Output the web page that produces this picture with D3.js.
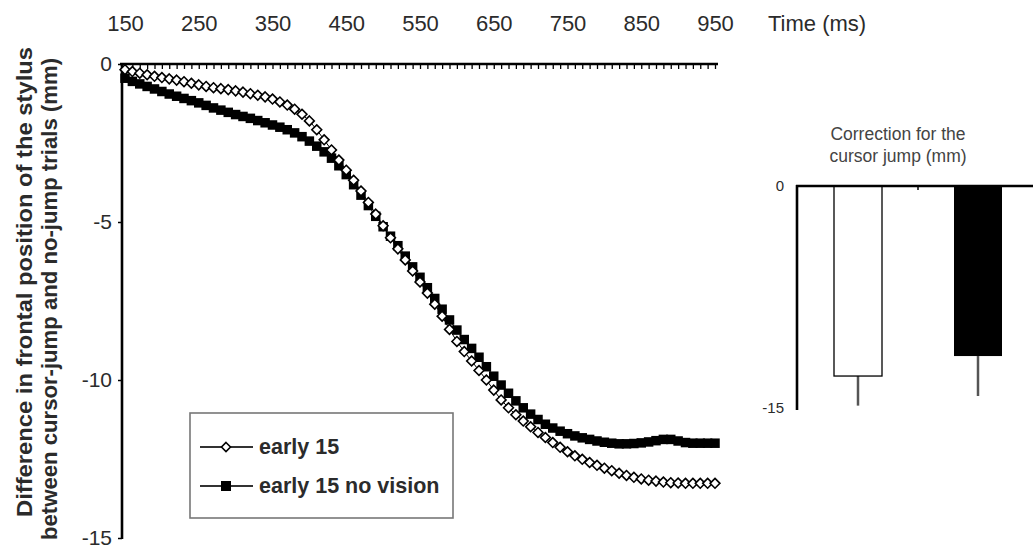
<!DOCTYPE html>
<html>
<head>
<meta charset="utf-8">
<script src="https://cdn.jsdelivr.net/npm/d3@7"></script>
<style>
  body { margin: 0; background: #fff; }
  svg { display: block; }
</style>
</head>
<body>
<svg id="chart" width="1033" height="555"></svg>
<script>
// Sampling grid (ms) and labelled ticks
const sampleTimes = d3.range(150, 951, 10);
const timeTicks = [150, 250, 350, 450, 550, 650, 750, 850, 950];
const yTicks = [0, -5, -10, -15];

// Mean frontal-position difference (mm), one value per 10 ms sample
const early15 = [
  -0.18, -0.24, -0.29, -0.34, -0.39, -0.43, -0.47, -0.51, -0.56, -0.61,
  -0.66, -0.71, -0.75, -0.78, -0.81, -0.85, -0.89, -0.94, -0.99, -1.04,
  -1.11, -1.20, -1.30, -1.43, -1.59, -1.80, -2.08, -2.40, -2.72, -3.04,
  -3.36, -3.68, -4.02, -4.38, -4.75, -5.12, -5.50, -5.85, -6.20, -6.55,
  -6.90, -7.25, -7.60, -7.98, -8.40, -8.78, -9.10, -9.40, -9.70, -10.00,
  -10.32, -10.63, -10.88, -11.10, -11.30, -11.48, -11.66, -11.82, -11.98, -12.13,
  -12.27, -12.40, -12.51, -12.61, -12.70, -12.79, -12.87, -12.95, -13.02, -13.08,
  -13.13, -13.17, -13.20, -13.23, -13.25, -13.26, -13.27, -13.27, -13.27, -13.27,
  -13.27
];
const early15NoVision = [
  -0.45, -0.55, -0.63, -0.71, -0.79, -0.87, -0.95, -1.02, -1.09, -1.16,
  -1.23, -1.31, -1.39, -1.46, -1.53, -1.60, -1.66, -1.72, -1.79, -1.86,
  -1.93, -2.00, -2.08, -2.18, -2.30, -2.44, -2.60, -2.78, -2.98, -3.22,
  -3.50, -3.82, -4.15, -4.48, -4.82, -5.15, -5.45, -5.75, -6.08, -6.42,
  -6.75, -7.08, -7.42, -7.76, -8.10, -8.42, -8.72, -9.00, -9.28, -9.58,
  -9.88, -10.16, -10.42, -10.66, -10.88, -11.08, -11.25, -11.40, -11.52, -11.62,
  -11.70, -11.77, -11.83, -11.88, -11.93, -11.97, -12.00, -12.02, -12.02, -12.01,
  -11.99, -11.96, -11.92, -11.88, -11.88, -11.93, -11.98, -12.00, -12.00, -12.00,
  -12.00
];

// Inset: final correction per condition (mm) with error bars
const conditions = ["early 15", "early 15 no vision"];
const correctionMeans = [-12.84, -11.49];
const correctionErrors = [2.0, 2.7];
const insetTicks = [0, -15];

const svg = d3.select("#chart");
const FONT = "'Liberation Sans', Arial, sans-serif";
const TXT = "#2b2b2b";
const plain = d => String(d); // hyphen-minus labels

// ---------- main time-course panel ----------
const x = d3.scaleLinear().domain([150, 950]).range([125, 715]);
const y = d3.scaleLinear().domain([0, -15]).range([64, 538]);

// top axis: small ticks at every sample
const topAxis = svg.append("g")
  .attr("transform", "translate(0,64)")
  .call(d3.axisBottom(x).tickValues(sampleTimes).tickSize(5).tickFormat(""));
topAxis.select(".domain").remove();
topAxis.selectAll("line").attr("stroke", "#000").attr("stroke-width", 1.3);
svg.append("line")
  .attr("x1", 120).attr("x2", 718).attr("y1", 64).attr("y2", 64)
  .attr("stroke", "#000").attr("stroke-width", 2.6);

// time labels above the axis
const topLabels = svg.append("g")
  .attr("transform", "translate(0,33)")
  .call(d3.axisTop(x).tickValues(timeTicks).tickSize(0).tickPadding(2).tickFormat(plain));
topLabels.select(".domain").remove();
topLabels.selectAll("text")
  .attr("font-family", FONT).attr("font-size", 22).attr("fill", TXT);

svg.append("text")
  .attr("x", 768).attr("y", 31)
  .attr("font-family", FONT).attr("font-size", 22).attr("fill", TXT)
  .text("Time (ms)");

// left axis
const leftAxis = svg.append("g")
  .attr("transform", "translate(122,0)")
  .call(d3.axisLeft(y).tickValues(yTicks).tickSize(4).tickPadding(6).tickFormat(plain));
leftAxis.select(".domain").remove();
leftAxis.selectAll("line").attr("stroke", "#000").attr("stroke-width", 1.5);
leftAxis.selectAll("text")
  .attr("font-family", FONT).attr("font-size", 21).attr("fill", TXT);
svg.append("line")
  .attr("x1", 122).attr("x2", 122).attr("y1", 63).attr("y2", 539)
  .attr("stroke", "#000").attr("stroke-width", 2.6);

// y title (two lines)
svg.append("text")
  .attr("transform", "translate(32,282) rotate(-90)")
  .attr("text-anchor", "middle")
  .attr("textLength", 470).attr("lengthAdjust", "spacingAndGlyphs")
  .attr("font-family", FONT).attr("font-size", 22).attr("font-weight", "bold").attr("fill", TXT)
  .text("Difference in frontal position of the stylus");
svg.append("text")
  .attr("transform", "translate(57,299) rotate(-90)")
  .attr("text-anchor", "middle")
  .attr("textLength", 482).attr("lengthAdjust", "spacingAndGlyphs")
  .attr("font-family", FONT).attr("font-size", 22).attr("font-weight", "bold").attr("fill", TXT)
  .text("between cursor-jump and no-jump trials (mm)");

// series
const lineGen = d3.line().x((d, i) => x(sampleTimes[i])).y(d => y(d));
const diamond = r => `M0,${-r}L${r},0L0,${r}L${-r},0Z`;
const SQ = 9.5;

svg.append("path").datum(early15NoVision)
  .attr("d", lineGen).attr("fill", "none").attr("stroke", "#000").attr("stroke-width", 1);
svg.append("g").selectAll("rect").data(early15NoVision).join("rect")
  .attr("x", (d, i) => x(sampleTimes[i]) - SQ / 2)
  .attr("y", d => y(d) - SQ / 2)
  .attr("width", SQ).attr("height", SQ)
  .attr("fill", "#000");

svg.append("path").datum(early15)
  .attr("d", lineGen).attr("fill", "none").attr("stroke", "#000").attr("stroke-width", 1);
svg.append("g").selectAll("path").data(early15).join("path")
  .attr("transform", (d, i) => `translate(${x(sampleTimes[i])},${y(d)})`)
  .attr("d", diamond(4.9))
  .attr("fill", "#fff").attr("stroke", "#000").attr("stroke-width", 1.6);

// legend
const legend = svg.append("g");
legend.append("rect")
  .attr("x", 190).attr("y", 413).attr("width", 263).attr("height", 105)
  .attr("fill", "#fff").attr("stroke", "#777").attr("stroke-width", 1.6);
const legendRows = [
  { name: conditions[0], y: 447, open: true },
  { name: conditions[1], y: 486, open: false }
];
legendRows.forEach(r => {
  legend.append("line")
    .attr("x1", 200).attr("x2", 253).attr("y1", r.y).attr("y2", r.y)
    .attr("stroke", "#333").attr("stroke-width", 2);
  if (r.open) {
    legend.append("path")
      .attr("transform", `translate(226,${r.y})`)
      .attr("d", diamond(4.5))
      .attr("fill", "#fff").attr("stroke", "#000").attr("stroke-width", 1.6);
  } else {
    legend.append("rect")
      .attr("x", 221).attr("y", r.y - 5).attr("width", 10).attr("height", 10)
      .attr("fill", "#000");
  }
  legend.append("text")
    .attr("x", 259).attr("y", r.y + 7)
    .attr("font-family", FONT).attr("font-size", 21.5).attr("font-weight", "bold").attr("fill", TXT)
    .text(r.name);
});

// ---------- inset bar chart ----------
const xI = d3.scaleBand().domain(conditions).range([798, 1038])
  .paddingInner(0.6).paddingOuter(0.3);
const yI = d3.scaleLinear().domain([0, -15]).range([186, 408]);

const inset = svg.append("g");
inset.append("text")
  .attr("x", 898).attr("y", 140).attr("text-anchor", "middle")
  .attr("font-family", FONT).attr("font-size", 17.5).attr("fill", "#444")
  .text("Correction for the");
inset.append("text")
  .attr("x", 898).attr("y", 162).attr("text-anchor", "middle")
  .attr("font-family", FONT).attr("font-size", 17.5).attr("fill", "#444")
  .text("cursor jump  (mm)");

// error bars (downward)
inset.selectAll("line.err").data(conditions).join("line")
  .attr("class", "err")
  .attr("x1", c => xI(c) + xI.bandwidth() / 2)
  .attr("x2", c => xI(c) + xI.bandwidth() / 2)
  .attr("y1", (c, i) => yI(correctionMeans[i]))
  .attr("y2", (c, i) => yI(correctionMeans[i] - correctionErrors[i]))
  .attr("stroke", "#555").attr("stroke-width", 2.5);

// bars
inset.selectAll("rect.bar").data(conditions).join("rect")
  .attr("class", "bar")
  .attr("x", c => xI(c))
  .attr("y", yI(0))
  .attr("width", xI.bandwidth())
  .attr("height", (c, i) => yI(correctionMeans[i]) - yI(0))
  .attr("fill", (c, i) => i === 0 ? "#fff" : "#000")
  .attr("stroke", "#000").attr("stroke-width", (c, i) => i === 0 ? 1.3 : 0);

// inset axes
inset.append("line")
  .attr("x1", 796).attr("x2", 1033).attr("y1", yI(0)).attr("y2", yI(0))
  .attr("stroke", "#000").attr("stroke-width", 2.6);
inset.append("line")
  .attr("x1", 797).attr("x2", 797).attr("y1", yI(0) - 1).attr("y2", 410)
  .attr("stroke", "#000").attr("stroke-width", 2.6);
// category divider tick
const divX = xI(conditions[1]) - xI.step() * xI.paddingInner() / 2;
inset.append("line")
  .attr("x1", divX).attr("x2", divX).attr("y1", yI(0)).attr("y2", yI(0) + 4)
  .attr("stroke", "#000").attr("stroke-width", 1.5);

inset.selectAll("text.tick").data(insetTicks).join("text")
  .attr("class", "tick")
  .attr("x", 784).attr("y", d => yI(d) + 5)
  .attr("text-anchor", "end")
  .attr("font-family", FONT).attr("font-size", 15).attr("fill", TXT)
  .text(plain);
</script>
</body>
</html>
